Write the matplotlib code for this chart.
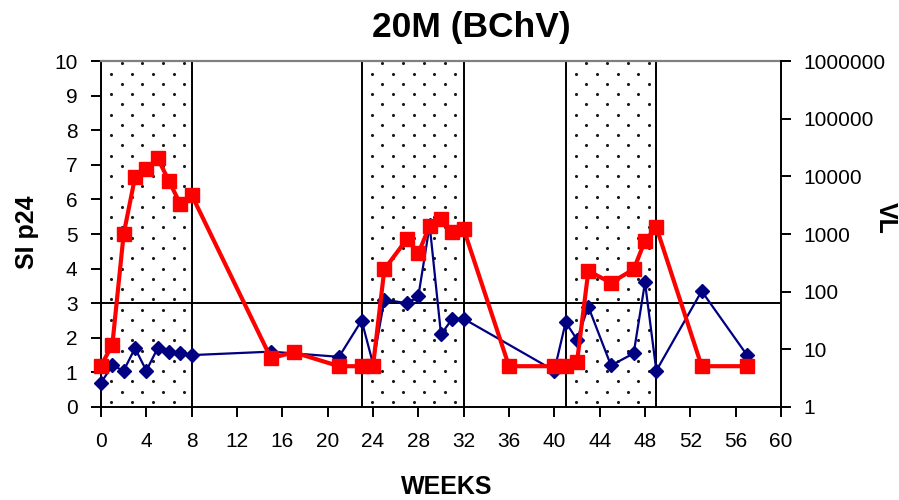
import matplotlib
matplotlib.use("Agg")
import matplotlib.pyplot as plt
import numpy as np
from matplotlib.ticker import FixedLocator, NullLocator, FuncFormatter

plt.rcParams['font.family'] = ['Liberation Sans', 'DejaVu Sans']

# SI p24 (left axis)
si_weeks = [0, 1, 2, 3, 4, 5, 6, 7, 8, 15, 21, 23, 24, 25, 27, 28, 29, 30,
            31, 32, 40, 41, 42, 43, 45, 47, 48, 49, 53, 57]
si_p24 = [0.7, 1.2, 1.05, 1.7, 1.05, 1.7, 1.6, 1.55, 1.5, 1.6, 1.45, 2.5,
          1.25, 3.1, 3.0, 3.2, 5.25, 2.1, 2.55, 2.55, 1.05, 2.45, 1.95, 2.9,
          1.2, 1.55, 3.6, 1.05, 3.35, 1.5]

# viral load (right axis, log)
vl_weeks = [0, 1, 2, 3, 4, 5, 6, 7, 8, 15, 17, 21, 23, 24, 25, 27, 28, 29,
            30, 31, 32, 36, 40, 41, 42, 43, 45, 47, 48, 49, 53, 57]
vl = [5.2, 12, 1000, 9600, 13400, 20500, 8300, 3300, 4750, 7, 8.9, 5.1, 5.1,
      5.1, 244, 820, 462, 1390, 1790, 1100, 1220, 5.1, 5.1, 5.1, 6, 228, 143,
      244, 760, 1310, 5.1, 5.1]

# treatment periods (dotted)
treatment = [(0, 8), (23, 32), (41, 49)]
si_cutoff = 3

x_ticks = np.arange(0, 61, 4)
left_ticks = np.arange(0, 11, 1)
right_ticks = [1, 10, 100, 1000, 10000, 100000, 1000000]

fig = plt.figure(figsize=(8.99, 5.0), dpi=100)
ax = fig.add_axes([101 / 899, 93 / 500, 680 / 899, 346 / 500])
ax2 = ax.twinx()

# dotted background for treatment periods
dot_dx = 1.83
dot_rows = np.linspace(9.93, 0.15, 34)
dx_all, dy_all = [], []
for start, end in treatment:
    for i, yy in enumerate(dot_rows):
        first = start + dot_dx * (1.0 if i % 2 == 0 else 0.5)
        xx = np.arange(first, end - 0.3, dot_dx)
        dx_all.extend(xx)
        dy_all.extend([yy] * len(xx))
ax.scatter(dx_all, dy_all, s=5, color='#1a1a1a', lw=0, zorder=1)

for start, end in treatment:
    for edge in (start, end):
        if edge > 0:
            ax.axvline(edge, color='black', lw=1.4, zorder=2)
ax.axhline(si_cutoff, color='black', lw=1.4, zorder=2)

ax.plot(si_weeks, si_p24, color='#000080', lw=1.6, marker='D', ms=7.5,
        zorder=3, clip_on=False)
ax2.plot(vl_weeks, vl, color='#FF0000', lw=3, marker='s', ms=9.5,
         zorder=3, clip_on=False)

ax.set_xlim(0, 60)
ax.set_ylim(0, 10)
ax2.set_yscale('log')
ax2.set_ylim(1, 1e6)

ax.xaxis.set_major_locator(FixedLocator(x_ticks))
ax.yaxis.set_major_locator(FixedLocator(left_ticks))
ax2.yaxis.set_major_locator(FixedLocator(right_ticks))
ax2.yaxis.set_minor_locator(NullLocator())
ax2.yaxis.set_major_formatter(FuncFormatter(lambda v, p: f"{int(round(v))}"))

ax.tick_params(axis='x', direction='out', length=7, width=1.4, pad=11,
               labelsize=15)
ax.tick_params(axis='y', direction='out', length=7, width=1.4, pad=10,
               labelsize=15)
ax2.tick_params(axis='y', direction='out', length=7, width=1.4, pad=9,
                labelsize=15)

for name in ('left', 'bottom'):
    ax.spines[name].set_linewidth(1.4)
    ax.spines[name].set_color('black')
ax.spines['right'].set_visible(False)
ax.spines['top'].set_color('#808080')
ax.spines['top'].set_linewidth(1.6)
for name in ('left', 'bottom', 'top'):
    ax2.spines[name].set_visible(False)
ax2.spines['right'].set_linewidth(1.4)
ax2.spines['right'].set_color('black')

fig.text(471 / 899, 1 - 27 / 500, '20M (BChV)', ha='center', va='center',
         fontsize=25.5, fontweight='bold')
fig.text(27 / 899, 1 - 232 / 500, 'SI p24', ha='center', va='center',
         rotation=90, fontsize=18, fontweight='bold')
fig.text(886 / 899, 1 - 218 / 500, 'VL', ha='center', va='center',
         rotation=-90, fontsize=18, fontweight='bold')
fig.text(447 / 899, 1 - 487 / 500, 'WEEKS', ha='center', va='center',
         fontsize=18, fontweight='bold')

fig.savefig('out.png', dpi=100)
